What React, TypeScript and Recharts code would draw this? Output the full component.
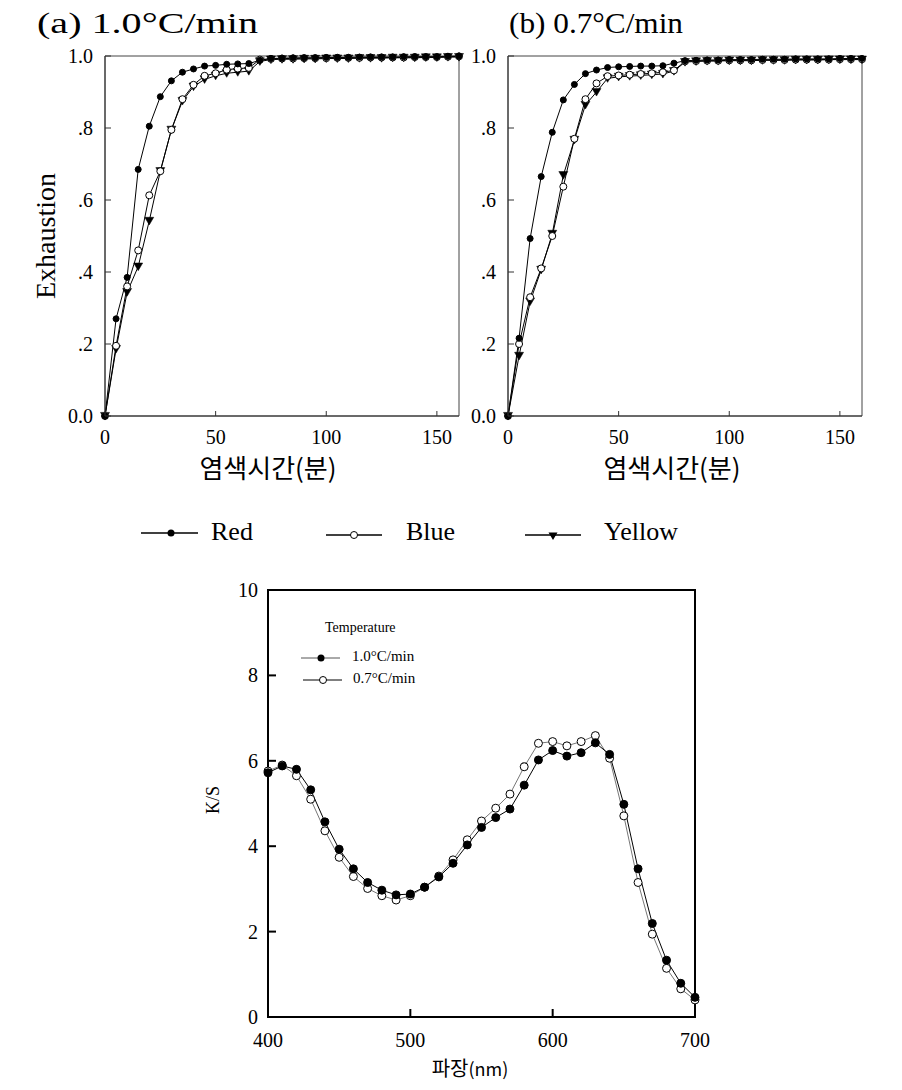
import React from 'react';
import { LineChart, Line, XAxis, YAxis, ReferenceArea } from 'recharts';

// dyeing time (min), same grid for both panels
const timeMin = [0, 5, 10, 15, 20, 25, 30, 35, 40, 45, 50, 55, 60, 65, 70, 75, 80, 85, 90, 95, 100, 105, 110, 115, 120, 125, 130, 135, 140, 145, 150, 155, 160];

// (a) 1.0°C/min
const redA = [0, 0.27, 0.385, 0.685, 0.805, 0.887, 0.931, 0.955, 0.964, 0.972, 0.974, 0.977, 0.978, 0.979, 0.988, 0.993, 0.994, 0.995, 0.995, 0.995, 0.996, 0.996, 0.996, 0.997, 0.997, 0.997, 0.997, 0.998, 0.998, 0.998, 0.998, 0.999, 1.0];
const blueA = [0, 0.195, 0.36, 0.46, 0.613, 0.68, 0.795, 0.88, 0.92, 0.945, 0.952, 0.962, 0.965, 0.967, 0.99, 0.992, 0.993, 0.993, 0.994, 0.994, 0.994, 0.995, 0.995, 0.995, 0.996, 0.996, 0.996, 0.996, 0.997, 0.997, 0.997, 0.998, 0.999];
const yellowA = [0, 0.186, 0.344, 0.415, 0.542, 0.68, 0.795, 0.875, 0.915, 0.935, 0.945, 0.952, 0.955, 0.958, 0.985, 0.99, 0.991, 0.991, 0.992, 0.992, 0.993, 0.993, 0.993, 0.994, 0.994, 0.994, 0.995, 0.995, 0.995, 0.996, 0.996, 0.997, 0.997];

// (b) 0.7°C/min
const redB = [0, 0.216, 0.493, 0.665, 0.788, 0.878, 0.921, 0.951, 0.961, 0.968, 0.97, 0.971, 0.972, 0.972, 0.973, 0.98, 0.987, 0.988, 0.989, 0.989, 0.99, 0.99, 0.99, 0.991, 0.991, 0.991, 0.992, 0.992, 0.992, 0.992, 0.993, 0.993, 0.993];
const blueB = [0, 0.2, 0.33, 0.41, 0.5, 0.637, 0.77, 0.88, 0.924, 0.944, 0.946, 0.948, 0.95, 0.952, 0.955, 0.96, 0.985, 0.986, 0.987, 0.987, 0.988, 0.988, 0.988, 0.989, 0.989, 0.989, 0.99, 0.99, 0.99, 0.99, 0.991, 0.991, 0.991];
const yellowB = [0, 0.167, 0.318, 0.406, 0.506, 0.669, 0.767, 0.864, 0.9, 0.938, 0.942, 0.944, 0.946, 0.948, 0.95, 0.958, 0.983, 0.985, 0.986, 0.986, 0.987, 0.987, 0.987, 0.988, 0.988, 0.988, 0.989, 0.989, 0.989, 0.99, 0.99, 0.99, 0.99];

const exhTicks = [0, 0.2, 0.4, 0.6, 0.8, 1.0];
const exhLabels = ['0.0', '.2', '.4', '.6', '.8', '1.0'];
const timeTicks = [0, 50, 100, 150];

// K/S spectra
const wavelength = [400, 410, 420, 430, 440, 450, 460, 470, 480, 490, 500, 510, 520, 530, 540, 550, 560, 570, 580, 590, 600, 610, 620, 630, 640, 650, 660, 670, 680, 690, 700];
const ks10 = [5.72, 5.88, 5.8, 5.32, 4.57, 3.93, 3.47, 3.15, 2.97, 2.86, 2.88, 3.04, 3.28, 3.6, 4.03, 4.44, 4.67, 4.87, 5.43, 6.02, 6.24, 6.11, 6.19, 6.42, 6.15, 4.98, 3.47, 2.19, 1.33, 0.79, 0.46];
const ks07 = [5.76, 5.9, 5.65, 5.1, 4.36, 3.74, 3.29, 3.01, 2.84, 2.74, 2.84, 3.04, 3.3, 3.68, 4.15, 4.59, 4.89, 5.22, 5.86, 6.41, 6.45, 6.35, 6.45, 6.59, 6.06, 4.71, 3.15, 1.94, 1.14, 0.66, 0.4];
const ksTicks = [0, 2, 4, 6, 8, 10];
const wlTicks = [400, 500, 600, 700];

const SERIF = '"Liberation Serif", "Times New Roman", serif';
const KOREAN = '"Noto Sans CJK KR", "Noto Sans", sans-serif';

const rowsA = timeMin.map((t, i) => ({ t, red: redA[i], blue: blueA[i], yellow: yellowA[i] }));
const rowsB = timeMin.map((t, i) => ({ t, red: redB[i], blue: blueB[i], yellow: yellowB[i] }));
const rowsKS = wavelength.map((w, i) => ({ w, fast: ks10[i], slow: ks07[i] }));

const triangle = (cx: number, cy: number, s = 4.5) =>
    `M${cx - s},${cy - s * 0.8} L${cx + s},${cy - s * 0.8} L${cx},${cy + s * 0.9} Z`;

const TriangleDot = (props: any) => {
    const { cx, cy, index } = props;
    if (cx == null || cy == null) return <g key={index} />;
    return <path key={index} d={triangle(cx, cy)} fill="#000" stroke="#000" strokeWidth={0.5} />;
};

const makeYTick = (labels: (v: number) => string, len: number, gap: number, size: number, color: string, sw: number) =>
    (props: any) => {
        const { x, y, payload } = props;
        return (
            <g>
                <line x1={x} x2={x + len} y1={y} y2={y} stroke={color} strokeWidth={sw} />
                <text x={x - gap} y={y} dy="0.35em" textAnchor="end" fontFamily={SERIF} fontSize={size} fill="#000">
                    {labels(payload.value)}
                </text>
            </g>
        );
    };

const makeXTick = (len: number, gap: number, size: number, color: string, sw: number) =>
    (props: any) => {
        const { x, y, payload } = props;
        return (
            <g>
                <line x1={x} x2={x} y1={y} y2={y - len} stroke={color} strokeWidth={sw} />
                <text x={x} y={y + gap} dy="0.35em" textAnchor="middle" fontFamily={SERIF} fontSize={size} fill="#000">
                    {payload.value}
                </text>
            </g>
        );
    };

const exhTick = makeYTick(v => exhLabels[exhTicks.indexOf(v)] ?? String(v), 6, 12, 20, '#333', 1);
const timeTick = makeXTick(5, 21, 20, '#333', 1);
const ksTick = makeYTick(v => String(v), 8, 10, 20, '#000', 2);
const wlTick = makeXTick(8, 23, 20, '#000', 2);

function ExhaustionPanel({ data, left }: { data: any[]; left: number }) {
    // plot area: x 105..459 (panel a), y 56..416
    return (
        <div style={{ position: 'absolute', left, top: 0 }}>
            <LineChart width={480} height={500} data={data} margin={{ top: 56, right: 21, left: 45, bottom: 44 }}>
                <XAxis
                    dataKey="t"
                    type="number"
                    domain={[0, 160]}
                    ticks={timeTicks}
                    tick={timeTick}
                    tickSize={0}
                    tickMargin={0}
                    tickLine={false}
                    height={40}
                    axisLine={{ stroke: '#333', strokeWidth: 1 }}
                />
                <YAxis
                    type="number"
                    domain={[0, 1]}
                    ticks={exhTicks}
                    tick={exhTick}
                    tickSize={0}
                    tickMargin={0}
                    tickLine={false}
                    width={60}
                    axisLine={{ stroke: '#333', strokeWidth: 1 }}
                />
                <ReferenceArea x1={0} x2={160} y1={0} y2={1} fill="none" fillOpacity={0} stroke="#444" strokeWidth={1} ifOverflow="visible" />
                <Line type="linear" dataKey="yellow" stroke="#000" strokeWidth={1} dot={TriangleDot} activeDot={false} isAnimationActive={false} />
                <Line type="linear" dataKey="blue" stroke="#000" strokeWidth={1} dot={{ r: 3.5, fill: '#fff', stroke: '#000', strokeWidth: 1 }} activeDot={false} isAnimationActive={false} />
                <Line type="linear" dataKey="red" stroke="#000" strokeWidth={1} dot={{ r: 3, fill: '#000', stroke: '#000', strokeWidth: 1 }} activeDot={false} isAnimationActive={false} />
            </LineChart>
        </div>
    );
}

function SpectrumChart() {
    // plot area: x 268..695, y 590..1017 (page)
    return (
        <div style={{ position: 'absolute', left: 0, top: 560 }}>
            <LineChart width={760} height={530} data={rowsKS} margin={{ top: 30, right: 65, left: 208, bottom: 33 }}>
                <XAxis
                    dataKey="w"
                    type="number"
                    domain={[400, 700]}
                    ticks={wlTicks}
                    tick={wlTick}
                    tickSize={0}
                    tickMargin={0}
                    tickLine={false}
                    height={40}
                    axisLine={{ stroke: '#000', strokeWidth: 2 }}
                />
                <YAxis
                    type="number"
                    domain={[0, 10]}
                    ticks={ksTicks}
                    tick={ksTick}
                    tickSize={0}
                    tickMargin={0}
                    tickLine={false}
                    width={60}
                    axisLine={{ stroke: '#000', strokeWidth: 2 }}
                />
                <ReferenceArea x1={400} x2={700} y1={0} y2={10} fill="none" fillOpacity={0} stroke="#000" strokeWidth={2} ifOverflow="visible" />
                <Line type="linear" dataKey="slow" stroke="#777" strokeWidth={1} dot={{ r: 4, fill: '#fff', stroke: '#000', strokeWidth: 1 }} activeDot={false} isAnimationActive={false} />
                <Line type="linear" dataKey="fast" stroke="#000" strokeWidth={1} dot={{ r: 4, fill: '#000', stroke: '#000', strokeWidth: 1 }} activeDot={false} isAnimationActive={false} />
            </LineChart>
        </div>
    );
}

function Labels() {
    return (
        <svg width={902} height={1090} style={{ position: 'absolute', left: 0, top: 0, pointerEvents: 'none' }}>
            <text x={37} y={33} fontFamily={SERIF} fontSize={30} fill="#000" textLength={221} lengthAdjust="spacingAndGlyphs">(a) 1.0°C/min</text>
            <text x={509} y={33} fontFamily={SERIF} fontSize={30} fill="#000" textLength={174} lengthAdjust="spacingAndGlyphs">(b) 0.7°C/min</text>
            <text transform="translate(55,236) rotate(-90)" textAnchor="middle" fontFamily={SERIF} fontSize={28} fill="#000">Exhaustion</text>
            <text x={268} y={478} textAnchor="middle" fontFamily={KOREAN} fontSize={26} fill="#000">염색시간(분)</text>
            <text x={672} y={478} textAnchor="middle" fontFamily={KOREAN} fontSize={26} fill="#000">염색시간(분)</text>

            {/* series legend */}
            <line x1={141} x2={198} y1={533} y2={533} stroke="#000" strokeWidth={1.5} />
            <circle cx={171} cy={533} r={3.5} fill="#000" />
            <text x={211} y={540} fontFamily={SERIF} fontSize={26} fill="#000">Red</text>
            <line x1={326} x2={382} y1={535} y2={535} stroke="#000" strokeWidth={1.5} />
            <circle cx={354} cy={535} r={3.5} fill="#fff" stroke="#000" strokeWidth={1} />
            <text x={406} y={540} fontFamily={SERIF} fontSize={26} fill="#000">Blue</text>
            <line x1={525} x2={581} y1={535} y2={535} stroke="#000" strokeWidth={1.5} />
            <path d={triangle(553, 536)} fill="#000" />
            <text x={604} y={540} fontFamily={SERIF} fontSize={26} fill="#000">Yellow</text>

            <text transform="translate(219,800) rotate(-90)" textAnchor="middle" fontFamily={SERIF} fontSize={18} fill="#000">K/S</text>
            <text x={470} y={1076} textAnchor="middle" fontFamily={KOREAN} fill="#000">
                <tspan fontSize={20}>파장</tspan>
                <tspan fontSize={18}>(nm)</tspan>
            </text>

            {/* inner legend */}
            <text x={325} y={632} fontFamily={SERIF} fontSize={14} fill="#000">Temperature</text>
            <line x1={301} x2={340} y1={658} y2={658} stroke="#555" strokeWidth={1} />
            <circle cx={321} cy={658} r={3.5} fill="#000" />
            <text x={352} y={661} fontFamily={SERIF} fontSize={15} fill="#000">1.0°C/min</text>
            <line x1={303} x2={342} y1={680} y2={680} stroke="#000" strokeWidth={1} />
            <circle cx={323} cy={680} r={3.5} fill="#fff" stroke="#000" strokeWidth={1} />
            <text x={353} y={683} fontFamily={SERIF} fontSize={15} fill="#000">0.7°C/min</text>
        </svg>
    );
}

export default function App() {
    return (
        <div style={{ position: 'absolute', left: 0, top: 0, width: 902, height: 1090, background: '#fff', overflow: 'hidden' }}>
            <ExhaustionPanel data={rowsA} left={0} />
            <ExhaustionPanel data={rowsB} left={403} />
            <SpectrumChart />
            <Labels />
        </div>
    );
}
